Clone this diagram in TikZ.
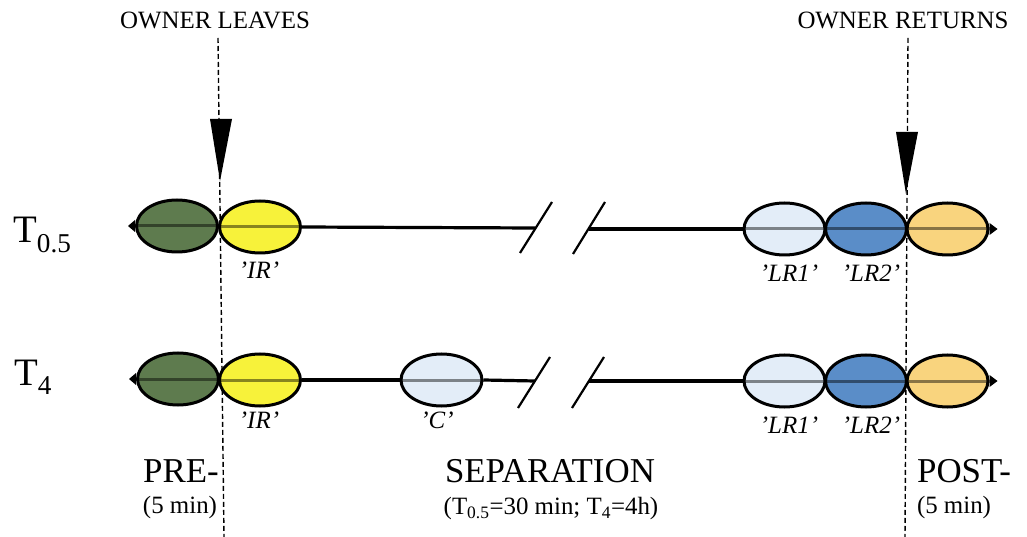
\documentclass[tikz,border=0pt]{standalone}
\usepackage{fontspec}
\setmainfont{Liberation Serif}
\usetikzlibrary{shapes.geometric,calc}
\definecolor{cgreen}{HTML}{5E7B4E}
\definecolor{cyellow}{HTML}{F7F23A}
\definecolor{clight}{HTML}{E3EDF8}
\definecolor{cblue}{HTML}{5A8DC8}
\definecolor{corange}{HTML}{F9D47E}
\tikzset{
  blob/.style={ellipse, draw=black, line width=3bp, minimum width=81bp, minimum height=52bp, inner sep=0pt},
  tline/.style={line width=3.2bp},
  brk/.style={line width=2.2bp},
  mid/.style={line width=3bp, black, opacity=0.45},
  dashv/.style={line width=1.4bp, dash pattern=on 5bp off 3bp},
  lab/.style={font=\fontsize{25}{27}\selectfont\itshape, inner sep=0pt},
  toplab/.style={font=\fontsize{25}{27}\selectfont, inner sep=0pt},
  phase/.style={font=\fontsize{35}{37}\selectfont, inner sep=0pt},
  sub/.style={font=\fontsize{25}{27}\selectfont, inner sep=0pt},
  rowlab/.style={font=\fontsize{39}{41}\selectfont, inner sep=0pt}
}
\begin{document}
\begin{tikzpicture}[x=1bp,y=-1bp]
\useasboundingbox (0,0) rectangle (1027,537);
% top labels and dashed lines
\node[toplab] (leave) at (215,20) {OWNER LEAVES};
\node[toplab] (ret) at (903,20) {OWNER RETURNS};
\coordinate (lt) at (218,38);
\coordinate (lb) at (224,537);
\coordinate (rt) at (908,38);
\coordinate (rb) at (905,537);
\draw[dashv] (lt) -- (lb);
\draw[dashv] (rt) -- (rb);
% row labels
\node[rowlab, anchor=west] (t05) at (13,235) {T\textsubscript{0.5}};
\node[rowlab, anchor=west] (t4) at (14,377) {T\textsubscript{4}};
% ---------- row 1 ----------
\coordinate (a1) at (535,228);
\coordinate (b1) at (589,229);
\node[blob, fill=cgreen] (g1) at (177,226) {};
\node[blob, fill=cyellow] (y1) at (260,227) {};
\node[blob, fill=clight] (l11) at (784.5,229) {};
\node[blob, fill=cblue] (l21) at (866,229) {};
\node[blob, fill=corange] (o1) at (947.5,229) {};
\draw[tline] (y1.east) -- (a1);
\draw[tline] (b1) -- (l11.west);
\draw[brk] (520,253) -- (552,202);
\draw[brk] (573,254) -- (605,202);
\foreach \n in {g1,y1,l11,l21,o1} \draw[mid] (\n.west) -- (\n.east);
\fill ($(g1.west)+(0,-6)$) -- ($(g1.west)+(-7,0)$) -- ($(g1.west)+(0,6)$) -- cycle;
\fill ($(o1.east)+(0,-6)$) -- ($(o1.east)+(8,0)$) -- ($(o1.east)+(0,6)$) -- cycle;
\node[lab] (ir1) at (259,270) {\textquoteright IR\textquoteright};
\node[lab] (lr11) at (789,273) {\textquoteright LR1\textquoteright};
\node[lab] (lr21) at (871,273) {\textquoteright LR2\textquoteright};
% ---------- row 2 ----------
\coordinate (a2) at (535,381);
\coordinate (b2) at (589,381);
\node[blob, fill=cgreen] (g2) at (178,379) {};
\node[blob, fill=cyellow] (y2) at (260,380) {};
\node[blob, fill=clight] (c2) at (441.5,380) {};
\node[blob, fill=clight] (l12) at (784.5,381) {};
\node[blob, fill=cblue] (l22) at (866,381) {};
\node[blob, fill=corange] (o2) at (947.5,381) {};
\draw[tline] (y2.east) -- (c2.west);
\draw[tline] (c2.east) -- (a2);
\draw[tline] (b2) -- (l12.west);
\draw[brk] (518,408) -- (550,357);
\draw[brk] (572,408) -- (604,357);
\foreach \n in {g2,y2,c2,l12,l22,o2} \draw[mid] (\n.west) -- (\n.east);
\fill ($(g2.west)+(0,-6)$) -- ($(g2.west)+(-7,0)$) -- ($(g2.west)+(0,6)$) -- cycle;
\fill ($(o2.east)+(0,-6)$) -- ($(o2.east)+(8,0)$) -- ($(o2.east)+(0,6)$) -- cycle;
\node[lab] (ir2) at (259,420) {\textquoteright IR\textquoteright};
\node[lab] (cl) at (437,420) {\textquoteright C\textquoteright};
\node[lab] (lr12) at (789,425) {\textquoteright LR1\textquoteright};
\node[lab] (lr22) at (871,425) {\textquoteright LR2\textquoteright};
% big arrowheads
\fill (210,119) -- (232,119) -- (220,181) -- cycle;
\fill (896,132) -- (918,132) -- (906,194) -- cycle;
% phase labels
\node[phase] (pre) at (181,471) {PRE-};
\node[sub] (pret) at (180,508) {(5 min)};
\node[phase] (sep) at (550,471) {SEPARATION};
\node[sub] (sept) at (551,509) {(T\textsubscript{0.5}=30 min; T\textsubscript{4}=4h)};
\node[phase] (post) at (964,471) {POST-};
\node[sub] (postt) at (954,508) {(5 min)};
\end{tikzpicture}
\end{document}
